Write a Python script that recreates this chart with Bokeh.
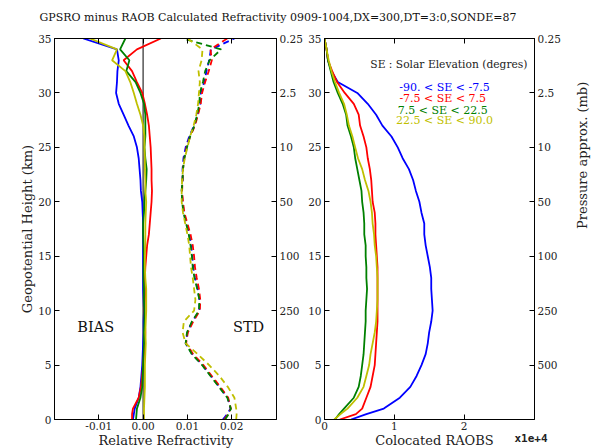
import math
from bokeh.plotting import figure
from bokeh.layouts import column, row
from bokeh.models import Range1d, LinearAxis, FixedTicker, Label, Span
from bokeh.embed import file_html
from bokeh.resources import INLINE

FONT = "DejaVu Serif"

title_text = "GPSRO minus RAOB Calculated Refractivity 0909-1004,DX=300,DT=3:0,SONDE=87"

heights = [0, 0.5, 1, 2, 3, 4, 5, 6, 7, 8, 9, 10, 11, 12, 13, 14, 15, 16, 17, 18, 19, 20,
           21, 22, 23, 24, 25, 26, 27, 28, 29, 30, 31, 32, 33, 34, 35]

series_names = ["-90. < SE < -7.5", "-7.5 < SE <  7.5", " 7.5 < SE < 22.5", "22.5 < SE < 90.0"]
series_colors = ["#0000ff", "#ff0000", "#008000", "#bfbf00"]

bias_blue = [-0.0023, -0.0021, -0.0019, -0.0010, -0.0006, -0.0004, -0.0002, -0.0001, 0.0, 0.0001, 0.0001,
             0.0002, 0.0001, 0.0, 0.0, 0.0, 0.0, 0.0, 0.0, 0.0, -0.0001, -0.0002, -0.0005, -0.0006,
             -0.0008, -0.0010, -0.0014, -0.0021, -0.0033, -0.0044, -0.0055, -0.0061, -0.0059, -0.0058,
             -0.0055, -0.0059, -0.0135]
bias_red = [-0.0025, -0.0025, -0.0023, -0.0010, -0.0005, -0.0002, 0.0, 0.0002, 0.0004, 0.0005, 0.0004,
            0.0003, 0.0004, 0.0005, 0.0004, 0.0005, 0.0007, 0.0009, 0.0013, 0.0015, 0.0017, 0.0019,
            0.0020, 0.0019, 0.0019, 0.0018, 0.0017, 0.0015, 0.0013, 0.0009, 0.0004, -0.0002, -0.0014,
            -0.0025, -0.0044, -0.0014, 0.0040]
bias_green = [-0.0016, -0.0015, -0.0014, -0.0006, -0.0002, -0.0001, 0.0, 0.0001, 0.0002, 0.0002, 0.0003,
              0.0003, 0.0002, 0.0002, 0.0001, 0.0001, 0.0002, 0.0001, 0.0, 0.0, 0.0002, 0.0003, 0.0005,
              0.0007, 0.0008, 0.0005, 0.0003, 0.0005, 0.0005, 0.0005, 0.0002, -0.0006, -0.0017, -0.0038,
              -0.0031, -0.0052, -0.0040]
bias_yellow = [0.0002, 0.0002, 0.0002, 0.0003, 0.0004, 0.0004, 0.0004, 0.0005, 0.0006, 0.0005, 0.0006,
               0.0007, 0.0007, 0.0007, 0.0005, 0.0004, 0.0004, 0.0005, 0.0005, 0.0005, 0.0006, 0.0007,
               0.0005, 0.0005, 0.0004, 0.0004, 0.0003, 0.0003, 0.0, -0.0006, -0.0014, -0.0021, -0.0029,
               -0.0040, -0.0070, -0.0059, -0.0120]

std_blue = [0.0180, 0.0190, 0.0197, 0.0191, 0.0172, 0.0153, 0.0134, 0.0111, 0.0096, 0.0100, 0.0111,
            0.0127, 0.0127, 0.0123, 0.0117, 0.0113, 0.0111, 0.0108, 0.0104, 0.0098, 0.0092, 0.0089,
            0.0087, 0.0089, 0.0089, 0.0091, 0.0096, 0.0104, 0.0115, 0.0123, 0.0129, 0.0130, 0.0138,
            0.0143, 0.0149, 0.0153, 0.0206]
std_red = [0.0183, 0.0192, 0.0198, 0.0192, 0.0174, 0.0155, 0.0136, 0.0113, 0.0097, 0.0101, 0.0113,
           0.0128, 0.0129, 0.0126, 0.0121, 0.0117, 0.0115, 0.0112, 0.0107, 0.0100, 0.0093, 0.0090,
           0.0088, 0.0089, 0.0090, 0.0093, 0.0098, 0.0106, 0.0117, 0.0124, 0.0130, 0.0133, 0.0140,
           0.0148, 0.0155, 0.0152, 0.0190]
std_green = [0.0185, 0.0193, 0.0198, 0.0190, 0.0171, 0.0152, 0.0133, 0.0110, 0.0096, 0.0099, 0.0110,
             0.0126, 0.0127, 0.0122, 0.0116, 0.0112, 0.0110, 0.0107, 0.0103, 0.0097, 0.0091, 0.0088,
             0.0087, 0.0089, 0.0090, 0.0093, 0.0099, 0.0106, 0.0116, 0.0122, 0.0127, 0.0128, 0.0135,
             0.0140, 0.0150, 0.0176, 0.0090]
std_yellow = [0.0210, 0.0211, 0.0210, 0.0206, 0.0191, 0.0172, 0.0149, 0.0123, 0.0096, 0.0089, 0.0092,
              0.0115, 0.0118, 0.0115, 0.0112, 0.0108, 0.0106, 0.0104, 0.0100, 0.0095, 0.0090, 0.0087,
              0.0087, 0.0088, 0.0090, 0.0094, 0.0100, 0.0106, 0.0114, 0.0120, 0.0124, 0.0126, 0.0128,
              0.0125, 0.0132, 0.0134, 0.0100]

# colocated RAOB counts, in units of 1e4
count_blue = [0.38, 0.60, 0.85, 1.08, 1.23, 1.32, 1.39, 1.45, 1.48, 1.50, 1.53, 1.55, 1.54, 1.53, 1.53,
              1.51, 1.48, 1.45, 1.43, 1.43, 1.39, 1.36, 1.31, 1.27, 1.21, 1.12, 1.05, 0.96, 0.83, 0.74,
              0.62, 0.47, 0.19, 0.10, 0.05, 0.03, 0.0]
count_red = [0.22, 0.45, 0.54, 0.60, 0.66, 0.69, 0.72, 0.73, 0.74, 0.75, 0.76, 0.76, 0.76, 0.76, 0.76,
             0.76, 0.75, 0.74, 0.73, 0.73, 0.72, 0.69, 0.68, 0.67, 0.65, 0.62, 0.60, 0.56, 0.51, 0.49,
             0.42, 0.29, 0.18, 0.11, 0.05, 0.03, 0.0]
count_green = [0.15, 0.21, 0.28, 0.42, 0.49, 0.52, 0.54, 0.56, 0.57, 0.58, 0.59, 0.59, 0.60, 0.61, 0.60,
               0.60, 0.59, 0.59, 0.57, 0.57, 0.56, 0.54, 0.53, 0.50, 0.47, 0.44, 0.42, 0.38, 0.33, 0.31,
               0.26, 0.19, 0.13, 0.09, 0.05, 0.03, 0.0]
count_yellow = [0.14, 0.23, 0.33, 0.47, 0.56, 0.60, 0.64, 0.66, 0.69, 0.72, 0.74, 0.75, 0.76, 0.76, 0.76,
                0.75, 0.74, 0.72, 0.71, 0.69, 0.68, 0.66, 0.63, 0.58, 0.54, 0.48, 0.44, 0.40, 0.35, 0.32,
                0.28, 0.21, 0.15, 0.10, 0.06, 0.03, 0.0]

height_ticks = [0, 5, 10, 15, 20, 25, 30, 35]
pressure_ticks = [5, 10, 15, 20, 25, 30, 35]
pressure_labels = ["500", "250", "100", "50", "10", "2.5", "0.25"]
bias_ticks = [-0.01, 0.0, 0.01, 0.02]
bias_tick_labels = ["-0.01", "0.00", "0.01", "0.02"]
count_ticks = [0, 1, 2]

bias_xlabel = "Relative Refractivity"
count_xlabel = "Colocated RAOBS"
count_scale_label = "x1e+4"
height_ylabel = "Geopotential Height (km)"
pressure_ylabel = "Pressure approx. (mb)"

biases = [bias_blue, bias_red, bias_green, bias_yellow]
stds = [std_blue, std_red, std_green, std_yellow]
counts = [count_blue, count_red, count_green, count_yellow]

TICK_SIZE = "10.5px"


def style_axis(ax):
    ax.major_tick_in = 5
    ax.major_tick_out = 0
    ax.minor_tick_line_color = None
    ax.major_label_text_font = FONT
    ax.major_label_text_font_size = TICK_SIZE
    ax.major_label_text_color = "#222222"
    ax.axis_line_color = "black"
    ax.major_tick_line_color = "black"
    ax.axis_label_text_font = FONT
    ax.axis_label_text_font_size = "13px"
    ax.axis_label_text_font_style = "normal"
    ax.axis_label_text_color = "#222222"
    ax.major_label_standoff = 3


def make_panel(width, bl, br, xr, xticks, xlabels, ylabel, rlabel):
    p = figure(width=width, height=409, x_range=xr, y_range=Range1d(0, 35),
               output_backend="svg", toolbar_location=None,
               min_border_left=bl, min_border_right=br, min_border_top=14, min_border_bottom=14,
               outline_line_color="black", outline_line_width=1)
    p.xgrid.visible = False
    p.ygrid.visible = False
    xa = p.xaxis[0]
    xa.ticker = FixedTicker(ticks=xticks)
    if xlabels is not None:
        xa.major_label_overrides = {t: l for t, l in zip(xticks, xlabels)}
    style_axis(xa)
    xa.major_label_standoff = 2
    ya = p.yaxis[0]
    ya.ticker = FixedTicker(ticks=height_ticks)
    style_axis(ya)
    if ylabel:
        ya.axis_label = ylabel
        ya.axis_label_standoff = 0
    top = LinearAxis(ticker=FixedTicker(ticks=xticks))
    style_axis(top)
    top.major_label_text_color = None
    top.major_label_standoff = 0
    p.add_layout(top, "above")
    right = LinearAxis(ticker=FixedTicker(ticks=pressure_ticks),
                       major_label_overrides={t: l for t, l in zip(pressure_ticks, pressure_labels)})
    style_axis(right)
    if rlabel:
        right.axis_label = rlabel
        right.axis_label_standoff = 19
        try:
            right.axis_label_orientation = math.pi / 2
        except Exception:
            pass
    p.add_layout(right, "right")
    return p


def strip(height):
    s = figure(width=600, height=height, x_range=Range1d(0, 600), y_range=Range1d(0, height),
               output_backend="svg", toolbar_location=None, min_border=0,
               x_axis_location=None, y_axis_location=None, outline_line_color=None)
    s.xgrid.visible = False
    s.ygrid.visible = False
    return s


# title
pt = strip(24)
pt.add_layout(Label(x=39, y=6.7, text=title_text, text_font=FONT, text_font_size="11px",
                    text_color="#111111", text_baseline="alphabetic"))

# left panel
p1 = make_panel(305, 54, 28, Range1d(-0.02, 0.0301), bias_ticks, bias_tick_labels,
                height_ylabel, None)
p1.add_layout(Span(location=0, dimension="height", line_color="#555555", line_width=1.5,
                   level="underlay"))
for vals, c in zip(biases, series_colors):
    p1.line(vals, heights, line_color=c, line_width=1.8)
for vals, c in zip(stds, series_colors):
    p1.line(vals, heights, line_color=c, line_width=1.8, line_dash="6 4")
p1.add_layout(Label(x=-0.0107, y=8.48, text="BIAS", text_font=FONT, text_font_size="14.5px",
                    text_align="center", text_baseline="middle", text_color="#111111"))
p1.add_layout(Label(x=0.0238, y=8.48, text="STD", text_font=FONT, text_font_size="14.5px",
                    text_align="center", text_baseline="middle", text_color="#111111"))

# right panel
p2 = make_panel(295, 17, 54, Range1d(0, 3.01), count_ticks, None, None, pressure_ylabel)
for vals, c in zip(counts, series_colors):
    p2.line(vals, heights, line_color=c, line_width=1.8)
p2.add_layout(Label(x=2.91, y=32.65, text="SE : Solar Elevation (degres)", text_font=FONT,
                    text_font_size="10.7px", text_align="right", text_baseline="middle",
                    text_color="#222222"))
leg_y = [30.5, 29.45, 28.4, 27.45]
for name, c, yy in zip(series_names, series_colors, leg_y):
    p2.add_layout(Label(x=1.72, y=yy, text=name, text_font=FONT, text_font_size="11px",
                        text_align="center", text_baseline="middle", text_color=c))

# bottom strip with the x-axis titles
pb = strip(15)
pb.add_layout(Label(x=165.5, y=8, text=bias_xlabel, text_font=FONT, text_font_size="13px",
                    text_align="center", text_baseline="middle", text_color="#222222"))
pb.add_layout(Label(x=434, y=8, text=count_xlabel, text_font=FONT, text_font_size="13px",
                    text_align="center", text_baseline="middle", text_color="#222222"))
pb.add_layout(Label(x=547, y=10, text=count_scale_label, text_font="DejaVu Sans Mono",
                    text_font_size="11px", text_font_style="bold", text_align="right",
                    text_baseline="middle", text_color="#222222"))

layout = column(pt, row(p1, p2), pb)
open("out.html", "w").write(file_html(layout, INLINE))
